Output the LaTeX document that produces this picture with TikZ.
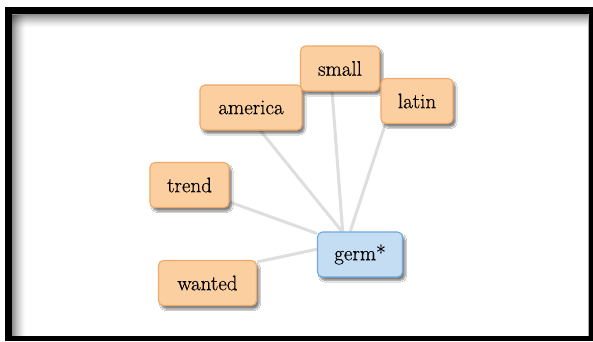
\documentclass[tikz,border=0pt]{standalone}
\usepackage{fontspec}
\setmainfont{Latin Modern Roman}[FakeBold=0.5]
\usepackage{tikz}
\usetikzlibrary{positioning, calc, shadows.blur}

\definecolor{termfill}{RGB}{252,207,160}
\definecolor{termline}{RGB}{238,170,106}
\definecolor{seedfill}{RGB}{197,221,242}
\definecolor{seedline}{RGB}{110,170,220}
\definecolor{linkgray}{RGB}{222,222,222}

\pgfdeclarelayer{frame}
\pgfdeclarelayer{links}
\pgfsetlayers{frame,links,main}

\tikzset{
  term/.style={draw=termline, fill=termfill, line width=1.1pt, rounded corners=5pt,
    minimum height=45pt, font=\fontsize{21}{25}\selectfont, text=black,
    blur shadow={shadow xshift=2.5pt, shadow yshift=-3.5pt, shadow blur steps=6, shadow opacity=50}},
  seed/.style={term, draw=seedline, fill=seedfill},
  link/.style={draw=linkgray, line width=3pt}
}

\begin{document}
\begin{tikzpicture}[x=1pt, y=-1pt]
  \useasboundingbox (0,0) rectangle (593,341);

  % terms
  \node[term, minimum width=102pt] (america) at (251,107.5) {america};
  \node[term, minimum width=79pt]  (small)   at (340,68.5)  {small};
  \node[term, minimum width=72pt]  (latin)   at (417,101)   {latin};
  \node[term, minimum width=79pt]  (trend)   at (189.5,185) {trend};
  \node[term, minimum width=98pt]  (wanted)  at (207.5,283) {wanted};
  \node[seed, minimum width=85pt]  (germ)    at (360,254.5) {germ*};

  % frame round the picture
  \begin{pgfonlayer}{frame}
    \fill[white] (0,0) rectangle (593,341);
    \fill[black] (5,7) rectangle (593,341);
    \fill[white] (12,14) rectangle (589,336);
    \foreach \i in {0,...,13} {
      \pgfmathsetmacro\op{0.45*(1-\i/14)^1.5}
      \fill[black, fill opacity=\op] (12,14+\i) rectangle (589,15+\i);
      \fill[black, fill opacity=\op] (12+\i,15) rectangle (13+\i,336);
    }
    \draw[black!35, line width=1pt] (588.5,14) -- (588.5,336);
  \end{pgfonlayer}

  % links to the seed
  \begin{pgfonlayer}{links}
    \draw[link] (america.-68)  -- (germ.128);
    \draw[link] (small.-109)   -- (germ.127);
    \draw[link] (latin.-144)   -- (germ.113);
    \draw[link] (trend.-23)    -- (germ.154);
    \draw[link] (wanted.23)    -- (germ.173);
  \end{pgfonlayer}
\end{tikzpicture}
\end{document}
